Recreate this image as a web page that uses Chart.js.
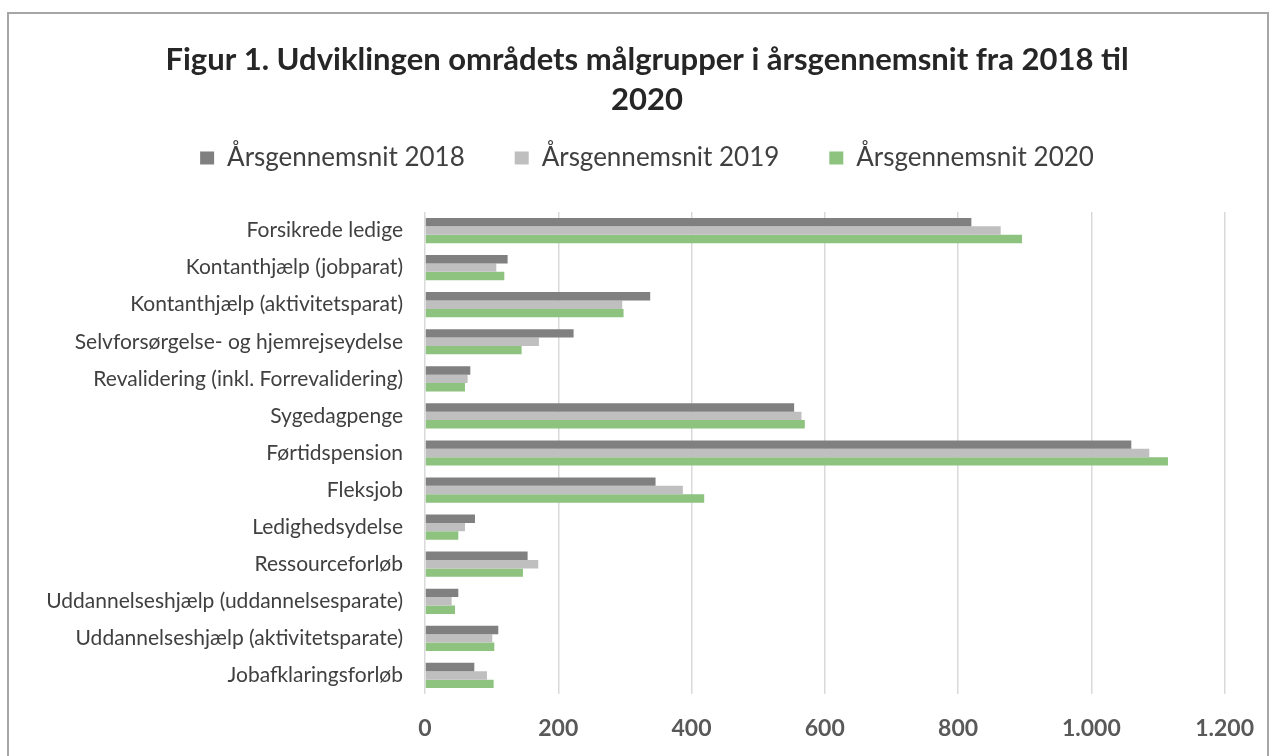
<!DOCTYPE html>
<html>
<head>
<meta charset="utf-8">
<script src="https://cdn.jsdelivr.net/npm/chart.js@4.4.1/dist/chart.umd.min.js"></script>
<style>
html,body{margin:0;padding:0;background:#fff;}
#wrap{width:1275px;height:756px;position:relative;}
</style>
</head>
<body>
<div id="wrap"><canvas id="c" width="1275" height="756"></canvas></div>
<script>
const titleLines = ["Figur 1. Udviklingen områdets målgrupper i årsgennemsnit fra 2018 til", "2020"];
const categories = [
  "Forsikrede ledige",
  "Kontanthjælp (jobparat)",
  "Kontanthjælp (aktivitetsparat)",
  "Selvforsørgelse- og hjemrejseydelse",
  "Revalidering (inkl. Forrevalidering)",
  "Sygedagpenge",
  "Førtidspension",
  "Fleksjob",
  "Ledighedsydelse",
  "Ressourceforløb",
  "Uddannelseshjælp (uddannelsesparate)",
  "Uddannelseshjælp (aktivitetsparate)",
  "Jobafklaringsforløb"
];
const seriesNames = ["Årsgennemsnit 2018", "Årsgennemsnit 2019", "Årsgennemsnit 2020"];
const values2018 = [820, 124, 338, 223, 68, 554, 1060, 346, 75, 154, 50, 110, 74];
const values2019 = [864, 107, 296, 171, 64, 565, 1087, 387, 60, 170, 40, 101, 93];
const values2020 = [896, 119, 298, 145, 60, 570, 1115, 419, 50, 147, 45, 104, 103];
const xTickValues = [0, 200, 400, 600, 800, 1000, 1200];

const colors = ["#808080", "#bfbfbf", "#8dc27f"];

function fmt(v){
  return String(v).replace(/\B(?=(\d{3})+(?!\d))/g, ".");
}

const framePlugin = {
  id: 'frame',
  beforeDraw(chart){
    const ctx = chart.ctx;
    ctx.save();
    ctx.fillStyle = '#ffffff';
    ctx.fillRect(0,0,chart.width,chart.height);
    ctx.strokeStyle = '#a6a6a6';
    ctx.lineWidth = 2;
    ctx.strokeRect(8, 13, 1260, 760);
    ctx.restore();
  },
  afterLayout(chart){
    // let the long category labels extend left of the (offset) y-scale box without being clipped
    if (chart.scales.y) chart.scales.y.left = 0;
  }
};

new Chart(document.getElementById('c'), {
  type: 'bar',
  data: {
    labels: categories,
    datasets: [
      {label: seriesNames[0], data: values2018, backgroundColor: colors[0]},
      {label: seriesNames[1], data: values2019, backgroundColor: colors[1]},
      {label: seriesNames[2], data: values2020, backgroundColor: colors[2]}
    ]
  },
  options: {
    indexAxis: 'y',
    responsive: false,
    animation: false,
    devicePixelRatio: 1,
    datasets: {bar: {categoryPercentage: 0.68, barPercentage: 1.0}},
    layout: {padding: {top: 40, left: 69, right: 50, bottom: 0}},
    plugins: {
      title: {
        display: true,
        text: titleLines,
        color: '#262626',
        font: {family: 'Lato', size: 31, weight: 'bold', lineHeight: 1.29},
        padding: {top: 0, bottom: -25},
        weight: 2000
      },
      legend: {
        display: true,
        position: 'top',
        weight: 1000,
        labels: {
          color: '#404040',
          font: {family: 'Lato', size: 26},
          boxWidth: 14,
          boxHeight: 13,
          padding: 50
        }
      },
      subtitle: {
        display: true,
        text: '',
        weight: 500,
        font: {size: 10, lineHeight: 1.2},
        padding: {top: 0, bottom: 19}
      },
      tooltip: {enabled: false}
    },
    scales: {
      x: {
        type: 'linear',
        min: 0,
        max: 1200,
        afterBuildTicks(scale){ scale.ticks = xTickValues.map(v => ({value: v})); },
        afterFit(scale){ scale.height = 62; },
        ticks: {
          callback: v => fmt(v),
          color: '#595959',
          font: {family: 'Lato', size: 23, weight: 'bold'},
          padding: 21
        },
        grid: {color: '#d9d9d9', lineWidth: 1.5, drawTicks: false},
        border: {display: false}
      },
      y: {
        afterFit(scale){ scale.width = 425 - 69; },
        ticks: {
          color: '#404040',
          font: {family: 'Lato', size: 21},
          padding: 22
        },
        grid: {display: false, drawTicks: false},
        border: {display: false}
      }
    }
  },
  plugins: [framePlugin]
});
</script>
</body>
</html>
